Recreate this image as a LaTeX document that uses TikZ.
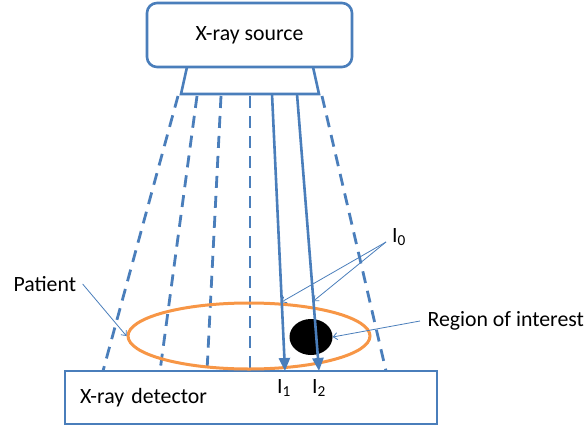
\documentclass[tikz,border=0pt]{standalone}
\usepackage{fontspec}
\setmainfont{Carlito}
\usetikzlibrary{arrows.meta,shapes.geometric}
\definecolor{xblue}{HTML}{4A7EBB}
\definecolor{xorange}{HTML}{F79646}
\begin{document}
\begin{tikzpicture}[x=1pt, y=-1pt, font=\fontsize{21.8}{25}\selectfont,
  box/.style={draw=xblue, line width=2.6pt, inner sep=0pt},
  ray/.style={xblue, line width=2.8pt, dash pattern=on 12pt off 8pt},
  beam/.style={xblue, line width=2.6pt, -{Triangle[length=13pt, width=11pt]}},
  pointer/.style={xblue, line width=0.8pt, -{Straight Barb[length=4pt, width=7pt]}}]
\useasboundingbox (0,0) rectangle (586,431);
% source housing with its aperture
\node[box, rounded corners=10pt, minimum width=205pt, minimum height=64pt] (source) at (249.5,35) {X-ray source};
\draw[box] (187,67) -- (181,94) -- (319,94) -- (313,67);
% detector plate
\node[box, minimum width=372pt, minimum height=53pt, text width=342pt, inner xsep=15pt, align=left] (detector) at (251,397.5) {X-ray detector};
% unattenuated fan (dashed)
\foreach \xa/\xb in {178/103, 197/160, 221/207, 250/250, 322/386}
  \draw[ray] (\xa,96) -- (\xb,371);
% patient outline and region of interest
\node[draw=xorange, line width=3pt, ellipse, minimum width=242pt, minimum height=66pt, inner sep=0pt] (patient) at (249,336) {};
\node[fill=black, ellipse, minimum width=43pt, minimum height=36pt, inner sep=0pt] (roi) at (311,337) {};
% measured beams
\coordinate (srcone) at (272,94);
\coordinate (srctwo) at (297,94);
\coordinate (detone) at (285,371);
\coordinate (dettwo) at (319,371);
\draw[beam] (srcone) -- (detone);
\draw[beam] (srctwo) -- (dettwo);
\coordinate (hitone) at (281.5,302);
\coordinate (hittwo) at (313.5,301);
% labels
\node (ione) at (284,388) {I\textsubscript{1}};
\node (itwo) at (319,388) {I\textsubscript{2}};
\node (izero) at (399,237) {I\textsubscript{0}};
\node[anchor=west] (patientlabel) at (10,284) {Patient};
\node[anchor=west] (roilabel) at (424,321) {Region of interest};
% pointers
\coordinate (fork) at (386,242);
\draw[pointer] (fork) -- (hitone);
\draw[pointer] (fork) -- (hittwo);
\draw[pointer] ([xshift=3pt]patientlabel.east) -- (patient.west);
\draw[pointer] ([xshift=-4pt]roilabel.west) -- (roi.east);
\end{tikzpicture}
\end{document}
